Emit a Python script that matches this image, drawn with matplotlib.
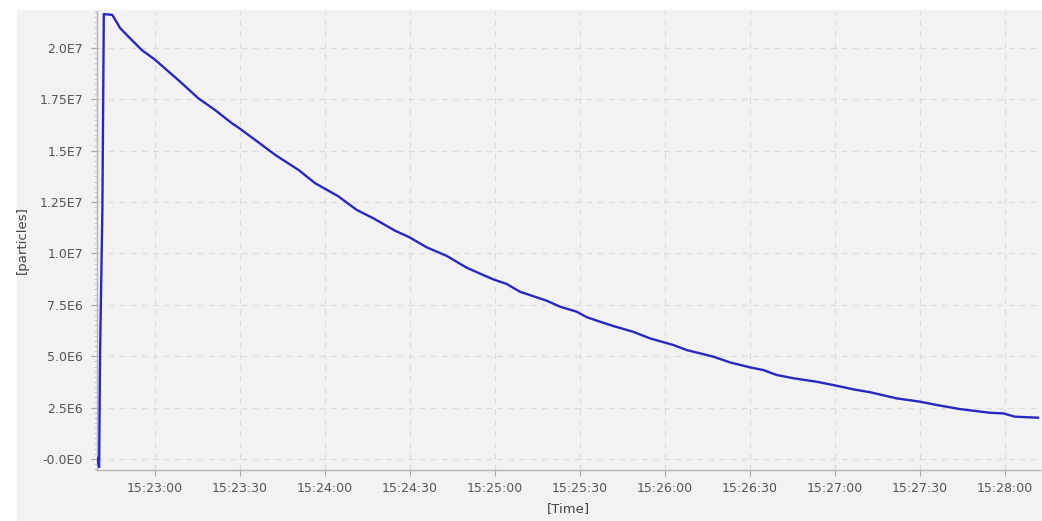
import datetime as dt
import matplotlib
matplotlib.use("Agg")
import matplotlib.pyplot as plt
import matplotlib.dates as mdates
from matplotlib.patches import Rectangle
from matplotlib.ticker import FixedLocator, FixedFormatter, MultipleLocator

# Measurement start and sample times (seconds after start)
start_time = "15:22:40"
elapsed_s = [
    -0.4, 0.25, 0.6, 1.4, 1.9, 4.9, 7.7, 10.6, 15.3, 19.8, 28.2, 35.3, 41.2,
    47.1, 49.8, 55.4, 62.5, 70.7, 76.5, 84.5, 91.2, 97.1, 104.7, 109.8, 115.9,
    123.0, 130.0, 135.9, 139.4, 144.1, 148.8, 158.3, 163.0, 168.8, 172.4,
    177.1, 181.8, 188.8, 194.7, 202.9, 207.7, 212.4, 217.1, 223.0, 230.0,
    234.7, 239.4, 245.3, 253.5, 259.4, 266.5, 272.4, 281.8, 290.0, 295.9,
    304.1, 314.7, 319.4, 323.5, 331.7,
]
particles = [
    0.05e6, -0.39e6, 5.3e6, 12.1e6, 21.65e6, 21.61e6, 20.96e6, 20.55e6,
    19.90e6, 19.45e6, 18.44e6, 17.55e6, 16.98e6, 16.34e6, 16.09e6, 15.52e6,
    14.79e6, 14.06e6, 13.42e6, 12.80e6, 12.12e6, 11.71e6, 11.11e6, 10.79e6,
    10.30e6, 9.88e6, 9.31e6, 8.95e6, 8.74e6, 8.52e6, 8.14e6, 7.70e6, 7.41e6,
    7.17e6, 6.90e6, 6.68e6, 6.47e6, 6.19e6, 5.87e6, 5.55e6, 5.30e6, 5.14e6,
    4.98e6, 4.70e6, 4.46e6, 4.33e6, 4.09e6, 3.93e6, 3.76e6, 3.60e6, 3.39e6,
    3.25e6, 2.95e6, 2.79e6, 2.63e6, 2.43e6, 2.25e6, 2.22e6, 2.06e6, 2.01e6,
]
y_ticks = [0, 2.5e6, 5.0e6, 7.5e6, 1.0e7, 1.25e7, 1.5e7, 1.75e7, 2.0e7]
y_tick_labels = ["-0.0E0", "2.5E6", "5.0E6", "7.5E6", "1.0E7", "1.25E7",
                 "1.5E7", "1.75E7", "2.0E7"]

t0 = dt.datetime.combine(dt.date(2024, 1, 1),
                         dt.datetime.strptime(start_time, "%H:%M:%S").time())
times = [t0 + dt.timedelta(seconds=s) for s in elapsed_s]

W, H = 1042, 521
fig = plt.figure(figsize=(W / 100, H / 100), dpi=100, facecolor="white")
panel_bg = "#f2f2f2"
fig.patches.append(Rectangle((17 / W, 0), 1 - 17 / W, 1 - 10 / H,
                             transform=fig.transFigure, facecolor=panel_bg,
                             edgecolor="none", zorder=-5))

left, right, bottom, top = 97 / W, 1040 / W, 1 - 470 / H, 1 - 11 / H
ax = fig.add_axes([left, bottom, right - left, top - bottom])
ax.set_facecolor(panel_bg)

ax.plot(times, particles, color="#2828c0", lw=1.7, solid_joinstyle="round", zorder=3)

ax.set_xlim(t0 + dt.timedelta(seconds=-0.5), t0 + dt.timedelta(seconds=332.4))
ax.set_ylim(-5.35e5, 2.18e7)

ax.xaxis.set_major_locator(mdates.SecondLocator(bysecond=[0, 30]))
ax.xaxis.set_major_formatter(mdates.DateFormatter("%H:%M:%S"))
ax.yaxis.set_major_locator(FixedLocator(y_ticks))
ax.yaxis.set_major_formatter(FixedFormatter(y_tick_labels))
ax.yaxis.set_minor_locator(MultipleLocator(2.5e5))

ax.grid(True, which="major", color="#dadada", linestyle=(0, (5, 5)), lw=0.8, zorder=1)

for side in ("top", "right"):
    ax.spines[side].set_visible(False)
for side in ("left", "bottom"):
    ax.spines[side].set_color("#b4b4b4")
    ax.spines[side].set_linewidth(1.0)

ax.tick_params(axis="both", which="major", length=4, width=0.8, color="#a8a8a8",
               labelcolor="#555555", labelsize=9)
ax.tick_params(axis="y", which="major", pad=6)
ax.tick_params(axis="x", which="major", pad=5)
ax.tick_params(axis="y", which="minor", length=2, width=0.6, color="#bdbdbd")

ax.set_xlabel("[Time]", fontsize=9.5, color="#444444", labelpad=5)
ax.set_ylabel("[particles]", fontsize=9.5, color="#444444")
ax.yaxis.set_label_coords(29 / W, (bottom + top) / 2, transform=fig.transFigure)

fig.savefig("out.png", dpi=100, facecolor=fig.get_facecolor())
